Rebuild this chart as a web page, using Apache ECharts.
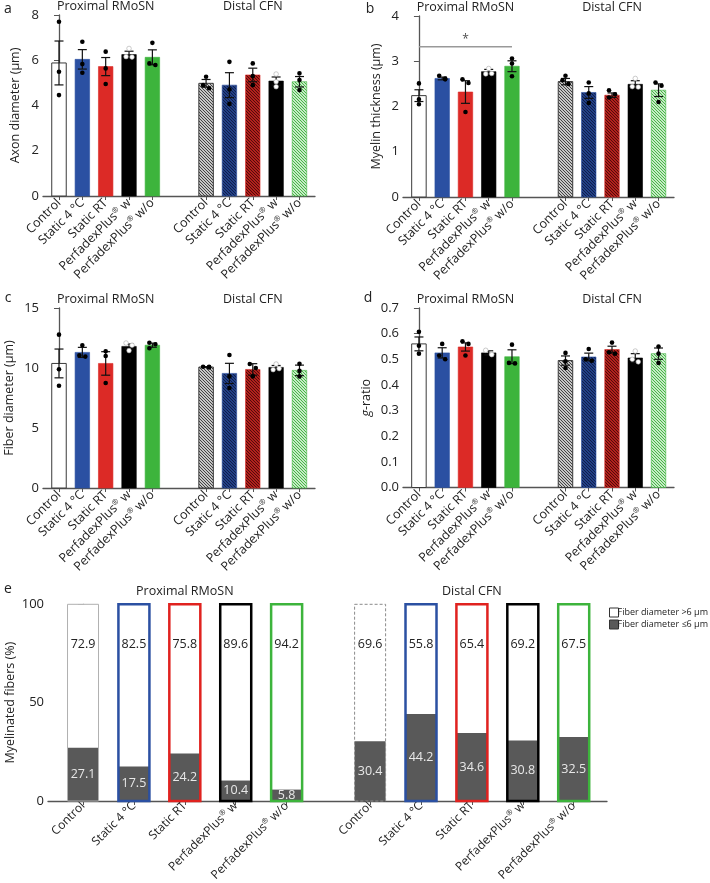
<!DOCTYPE html>
<html><head><meta charset="utf-8">
<script src="https://cdn.jsdelivr.net/npm/echarts@6/dist/echarts.min.js"></script>
<style>html,body{margin:0;padding:0;background:#fff}#c{width:710px;height:883px}</style>
</head><body><div id="c"></div>
<script>
// ---------- data ----------
const groups = ['Control', 'Static 4 °C', 'Static RT', 'PerfadexPlus® w', 'PerfadexPlus® w/o'];
const regions = ['Proximal RMoSN', 'Distal CFN'];

// a: Axon diameter (µm)  — first 5 proximal, last 5 distal
const axonMean = [5.88, 6.04, 5.72, 6.25, 6.13, 4.98, 4.90, 5.35, 5.08, 5.05];
const axonSem  = [0.97, 0.43, 0.40, 0.15, 0.33, 0.17, 0.55, 0.30, 0.18, 0.23];
const axonDots = [[7.7,5.49,4.46],[6.82,5.83,5.45],[6.38,5.64,4.95],[6.52,6.16,6.14],[6.77,5.86,5.79],
                  [5.27,4.9,4.76],[5.93,4.71,4.07],[5.86,5.3,4.9],[5.39,5.05,4.83],[5.42,5.13,4.68]];
const axonTicks = [0, 2, 4, 6, 8];

// b: Myelin thickness (µm)
const myelinMean = [2.24, 2.62, 2.32, 2.77, 2.89, 2.55, 2.31, 2.25, 2.49, 2.36];
const myelinSem  = [0.13, 0.03, 0.25, 0.05, 0.12, 0.07, 0.13, 0.05, 0.08, 0.14];
const myelinDots = [[2.51,2.16,2.05],[2.68,2.62,2.6],[2.6,2.52,1.88],[2.84,2.72,2.73],[3.06,2.95,2.67],
                    [2.68,2.58,2.5],[2.53,2.29,2.08],[2.36,2.27,2.2],[2.62,2.44,2.43],[2.53,2.46,2.1]];
const myelinSig = { from: 0, to: 4, level: 3.32, text: '*' };
const myelinTicks = [0, 1, 2, 3, 4];

// c: Fiber diameter (µm)
const fiberMean = [10.38, 11.30, 10.38, 11.80, 11.90, 10.08, 9.55, 9.88, 10.05, 9.80];
const fiberSem  = [1.20, 0.42, 0.98, 0.20, 0.17, 0.03, 0.84, 0.48, 0.16, 0.44];
const fiberDots = [[12.78,9.9,8.52],[11.9,11.05,10.95],[11.4,11.0,8.75],[12.08,11.45,11.9],[12.1,11.98,11.65],
                   [10.1,10.1,10.05],[11.08,9.3,8.33],[10.33,10.0,9.3],[10.33,9.86,9.95],[10.36,9.76,9.3]];
const fiberTicks = [0, 5, 10, 15];

// d: g-ratio
const gMean = [0.560, 0.525, 0.548, 0.525, 0.510, 0.495, 0.509, 0.538, 0.505, 0.522];
const gSem  = [0.027, 0.020, 0.016, 0.008, 0.027, 0.018, 0.015, 0.013, 0.017, 0.022];
const gDots = [[0.607,0.553,0.522],[0.56,0.515,0.5],[0.57,0.56,0.515],[0.535,0.52,0.518],[0.557,0.486,0.484],
               [0.525,0.492,0.466],[0.54,0.5,0.494],[0.565,0.527,0.522],[0.532,0.5,0.49],[0.55,0.522,0.486]];
const gTicks = [0, 0.1, 0.2, 0.3, 0.4, 0.5, 0.6, 0.7];

// e: Myelinated fibers (%)
const pctAbove6 = [72.9, 82.5, 75.8, 89.6, 94.2, 69.6, 55.8, 65.4, 69.2, 67.5];
const pctBelow6 = [27.1, 17.5, 24.2, 10.4, 5.8, 30.4, 44.2, 34.6, 30.8, 32.5];
const pctTicks = [0, 50, 100];
const legendNames = ['Fiber diameter >6 μm', 'Fiber diameter ≤6 μm'];

// ---------- layout helpers ----------
const posAD = [0, 1, 2, 3, 4, 6.3, 7.3, 8.3, 9.3, 10.3];
const posE  = [0, 1, 2, 3, 4, 5.64, 6.64, 7.64, 8.64, 9.64];
const FONT = '"Open Sans", "Noto Sans", sans-serif';

function hatch(bg, fg) {
  const c = document.createElement('canvas');
  c.width = 3; c.height = 3;
  const g = c.getContext('2d');
  g.fillStyle = bg; g.fillRect(0, 0, 3, 3);
  g.strokeStyle = fg; g.lineWidth = 1.1;
  g.beginPath();
  g.moveTo(-1, -1); g.lineTo(4, 4);
  g.moveTo(-1, 2); g.lineTo(1, 4);
  g.moveTo(2, -1); g.lineTo(4, 1);
  g.stroke();
  return { image: c, repeat: 'repeat' };
}
const solid = ['#ffffff', '#2b50a2', '#dc2a26', '#000000', '#3db43c'];
const borders = ['#3a3a3a', '#2b50a2', '#dc2a26', '#000000', '#3db43c'];
const hatched = [hatch('#ffffff', '#3a3a3a'), hatch('#2b50a2', '#0f1c46'), hatch('#dc2a26', '#4a0b09'),
                 '#000000', hatch('#ffffff', '#3db43c')];
const eBorders = ['#b0b0b0', '#2b50a2', '#e0221f', '#000000', '#3db43c', '#8a8a8a', '#2b50a2', '#e0221f', '#000000', '#3db43c'];

function labelFmt(pos) {
  return function (v) {
    let best = 0, d = 1e9;
    pos.forEach((p, i) => { if (Math.abs(p - v) < d) { d = Math.abs(p - v); best = i; } });
    return groups[best % 5].replace('®', '{s|®}');
  };
}
const xLabelRich = { s: { fontSize: 7.5, fontFamily: FONT, color: '#222', verticalAlign: 'top', padding: [0, 0, 6, 0] } };

const grids = [], xAxes = [], yAxes = [], series = [], graphics = [];
const AD_MIN = -0.685, AD_MAX = 10.965;

function titleText(x, y, text, size) {
  return { type: 'text', x: x, y: y, z: 10,
    style: { text: text, fontFamily: FONT, fontSize: size, fill: '#222', align: 'center', verticalAlign: 'middle' } };
}
function makeGrid(g) {
  return { left: g.left, top: g.top, width: g.width, height: g.height, containLabel: false, outerBoundsMode: 'none' };
}

function addPanel(idx, g, ticks, yName, nameGap, means, sems, dots, yFmt) {
  grids.push(makeGrid(g));
  xAxes.push({
    gridIndex: idx, type: 'value', min: AD_MIN, max: AD_MAX,
    axisLine: { show: true, onZero: false, lineStyle: { color: '#555', width: 1.3 } },
    axisTick: { show: true, customValues: posAD, length: 4, lineStyle: { color: '#555' } },
    axisLabel: { show: true, customValues: posAD, rotate: 45, margin: 5, formatter: labelFmt(posAD),
      fontFamily: FONT, fontSize: 12.5, color: '#222', rich: xLabelRich },
    splitLine: { show: false }
  });
  const ymax = ticks[ticks.length - 1];
  yAxes.push({
    gridIndex: idx, type: 'value', min: 0, max: ymax, interval: ticks[1] - ticks[0],
    name: yName, nameLocation: 'middle', nameRotate: 90, nameGap: nameGap, nameMoveOverlap: false,
    nameTextStyle: { fontFamily: FONT, fontSize: 12.5, color: '#222',
      rich: { i: { fontStyle: 'italic', fontFamily: FONT, fontSize: 12.5, color: '#222' } } },
    axisLine: { show: true, lineStyle: { color: '#555', width: 1.3 } },
    axisTick: { show: true, length: 5, lineStyle: { color: '#555' } },
    axisLabel: { fontFamily: FONT, fontSize: 13, color: '#222', margin: 4, formatter: yFmt },
    splitLine: { show: false }
  });
  // bars
  series.push({
    type: 'custom', xAxisIndex: idx, yAxisIndex: idx, z: 2, silent: true,
    data: means.map((m, i) => [posAD[i], m, i]),
    renderItem: function (params, api) {
      const i = api.value(2);
      const t = api.coord([api.value(0), api.value(1)]);
      const b = api.coord([api.value(0), 0]);
      const w = 14.5;
      return { type: 'rect', shape: { x: t[0] - w / 2, y: t[1], width: w, height: b[1] - t[1] },
        style: { fill: i < 5 ? solid[i] : hatched[i - 5], stroke: borders[i % 5], lineWidth: (i % 5 === 0) ? 1 : 0.6 } };
    }
  });
  // error bars
  series.push({
    type: 'custom', xAxisIndex: idx, yAxisIndex: idx, z: 4, silent: true,
    data: means.map((m, i) => [posAD[i], m, sems[i]]),
    renderItem: function (params, api) {
      const x = api.value(0), m = api.value(1), s = api.value(2);
      const t = api.coord([x, m + s]), b = api.coord([x, m - s]);
      const w = 4.5, st = { stroke: '#111', lineWidth: 1.2 };
      return { type: 'group', children: [
        { type: 'line', shape: { x1: t[0], y1: t[1], x2: b[0], y2: b[1] }, style: st },
        { type: 'line', shape: { x1: t[0] - w, y1: t[1], x2: t[0] + w, y2: t[1] }, style: st },
        { type: 'line', shape: { x1: b[0] - w, y1: b[1], x2: b[0] + w, y2: b[1] }, style: st }
      ] };
    }
  });
  // individual points, with small automatic de-overlap offsets
  const dotData = [];
  dots.forEach((arr, i) => {
    const off = arr.map(() => 0);
    const thr = ymax * 0.025;
    for (let a = 0; a < arr.length; a++) for (let c = a + 1; c < arr.length; c++) {
      if (Math.abs(arr[a] - arr[c]) < thr) {
        if (off[a] === 0 && off[c] === 0) { off[a] = -3; off[c] = 3; }
        else if (off[c] === 0) { off[c] = off[a] === 3 ? -3 : 3; }
      }
    }
    arr.forEach((v, k) => dotData.push([posAD[i], v, off[k], i % 5 === 3 ? 1 : 0]));
  });
  series.push({
    type: 'custom', xAxisIndex: idx, yAxisIndex: idx, z: 5, silent: true,
    data: dotData,
    renderItem: function (params, api) {
      const p = api.coord([api.value(0), api.value(1)]);
      const white = api.value(3) === 1;
      return { type: 'circle', shape: { cx: p[0] + api.value(2), cy: p[1], r: 2.3 },
        style: white ? { fill: '#fff', stroke: '#aaa', lineWidth: 0.6 } : { fill: '#000' } };
    }
  });
  const sx = g.width / (AD_MAX - AD_MIN);
  graphics.push(titleText(g.left + (2 - AD_MIN) * sx, g.top - 9, regions[0], 12.5));
  graphics.push(titleText(g.left + (8.3 - AD_MIN) * sx, g.top - 9, regions[1], 12.5));
}

addPanel(0, { left: 43, top: 15, width: 272, height: 181 }, axonTicks, 'Axon diameter (μm)', 21, axonMean, axonSem, axonDots);
addPanel(1, { left: 403, top: 16, width: 271, height: 181 }, myelinTicks, 'Myelin thickness (μm)', 20, myelinMean, myelinSem, myelinDots);
addPanel(2, { left: 43, top: 308, width: 272, height: 180 }, fiberTicks, 'Fiber diameter (μm)', 27, fiberMean, fiberSem, fiberDots);
addPanel(3, { left: 403, top: 308, width: 271, height: 179.5 }, gTicks, '{i|g}-ratio', 30, gMean, gSem, gDots, v => v.toFixed(1));

// significance bar in panel b
series.push({
  type: 'line', xAxisIndex: 1, yAxisIndex: 1, symbol: 'none', silent: true, z: 3,
  lineStyle: { color: '#999', width: 1.5 },
  data: [[myelinSig.from, myelinSig.level], [myelinSig.to, myelinSig.level]]
});
series.push({
  type: 'scatter', xAxisIndex: 1, yAxisIndex: 1, symbolSize: 0, silent: true,
  data: [[(myelinSig.from + myelinSig.to) / 2, myelinSig.level]],
  label: { show: true, formatter: myelinSig.text, position: 'top', distance: 1, fontFamily: FONT, fontSize: 12, color: '#222' }
});

// ---------- panel e ----------
const E_MIN = -0.688, E_MAX = 10.294;
const eG = { left: 48, top: 604.3, width: 559, height: 196.7 };
grids.push(makeGrid(eG));
xAxes.push({
  gridIndex: 4, type: 'value', min: E_MIN, max: E_MAX,
  axisLine: { show: true, onZero: false, lineStyle: { color: '#555', width: 1.3 } },
  axisTick: { show: true, customValues: posE, length: 4, lineStyle: { color: '#555' } },
  axisLabel: { show: true, customValues: posE, rotate: 45, margin: 3, formatter: labelFmt(posE),
    fontFamily: FONT, fontSize: 12, color: '#222', rich: xLabelRich },
  splitLine: { show: false }
});
yAxes.push({
  gridIndex: 4, type: 'value', min: 0, max: 100, interval: 50,
  name: 'Myelinated fibers (%)', nameLocation: 'middle', nameRotate: 90, nameGap: 31, nameMoveOverlap: false,
  nameTextStyle: { fontFamily: FONT, fontSize: 12.5, color: '#222' },
  axisLine: { show: true, lineStyle: { color: '#555', width: 1.3 } },
  axisTick: { show: true, length: 5, lineStyle: { color: '#555' } },
  axisLabel: { fontFamily: FONT, fontSize: 13, color: '#222', margin: 4 },
  splitLine: { show: false }
});
const EW = 31;
series.push({
  name: legendNames[0], type: 'custom', xAxisIndex: 4, yAxisIndex: 4, z: 2, silent: true,
  itemStyle: { color: '#fff', borderColor: '#333' },
  data: pctAbove6.map((v, i) => [posE[i], v + pctBelow6[i], v]),
  renderItem: function (params, api) {
    const t = api.coord([api.value(0), api.value(1)]);
    const b = api.coord([api.value(0), 0]);
    return { type: 'group', children: [
      { type: 'rect', shape: { x: t[0] - EW / 2, y: t[1], width: EW, height: b[1] - t[1] }, style: { fill: '#fff' } },
      { type: 'text', x: t[0], y: t[1] + 40, style: { text: api.value(2).toFixed(1), fontFamily: FONT, fontSize: 12.5, fill: '#222', align: 'center', verticalAlign: 'middle' } }
    ] };
  }
});
series.push({
  name: legendNames[1], type: 'custom', xAxisIndex: 4, yAxisIndex: 4, z: 3, silent: true,
  itemStyle: { color: '#595959' },
  data: pctBelow6.map((v, i) => [posE[i], v]),
  renderItem: function (params, api) {
    const t = api.coord([api.value(0), api.value(1)]);
    const b = api.coord([api.value(0), 0]);
    return { type: 'group', children: [
      { type: 'rect', shape: { x: t[0] - EW / 2, y: t[1], width: EW, height: b[1] - t[1] }, style: { fill: '#595959' } },
      { type: 'text', x: t[0], y: (t[1] + b[1]) / 2, style: { text: api.value(1).toFixed(1), fontFamily: FONT, fontSize: 12.5, fill: '#e8e8e8', align: 'center', verticalAlign: 'middle' } }
    ] };
  }
});
series.push({
  type: 'custom', xAxisIndex: 4, yAxisIndex: 4, z: 4, silent: true,
  data: pctAbove6.map((v, i) => [posE[i], v + pctBelow6[i], i]),
  renderItem: function (params, api) {
    const i = api.value(2);
    const t = api.coord([api.value(0), api.value(1)]);
    const b = api.coord([api.value(0), 0]);
    return { type: 'rect', shape: { x: t[0] - EW / 2, y: t[1], width: EW, height: b[1] - t[1] },
      style: { fill: 'none', stroke: eBorders[i], lineWidth: i % 5 === 0 ? 1 : 2.5, lineDash: i === 5 ? [3, 2] : null } };
  }
});
{
  const sx = eG.width / (E_MAX - E_MIN);
  graphics.push(titleText(eG.left + (2 - E_MIN) * sx, 591, regions[0], 12.5));
  graphics.push(titleText(eG.left + (7.64 - E_MIN) * sx, 591, regions[1], 12.5));
}

// panel letters
[['a', 8, 9], ['b', 370, 9], ['c', 8, 298], ['d', 368, 298], ['e', 8, 589]].forEach(l => {
  graphics.push(titleText(l[1], l[2], l[0], 14));
});

const chart = echarts.init(document.getElementById('c'), null, { renderer: 'canvas' });
chart.setOption({
  animation: false,
  backgroundColor: '#fff',
  grid: grids, xAxis: xAxes, yAxis: yAxes, series: series, graphic: graphics,
  legend: {
    data: [
      { name: legendNames[0], itemStyle: { color: '#fff', borderColor: '#333', borderWidth: 1 } },
      { name: legendNames[1], itemStyle: { color: '#595959', borderColor: '#333', borderWidth: 1 } }
    ],
    orient: 'vertical', left: 609, top: 607.5, padding: 0, itemWidth: 9, itemHeight: 9, itemGap: 2,
    icon: 'rect', selectedMode: false,
    textStyle: { fontFamily: FONT, fontSize: 9, color: '#222', padding: [0, 0, 0, -6] }
  }
});
</script></body></html>
